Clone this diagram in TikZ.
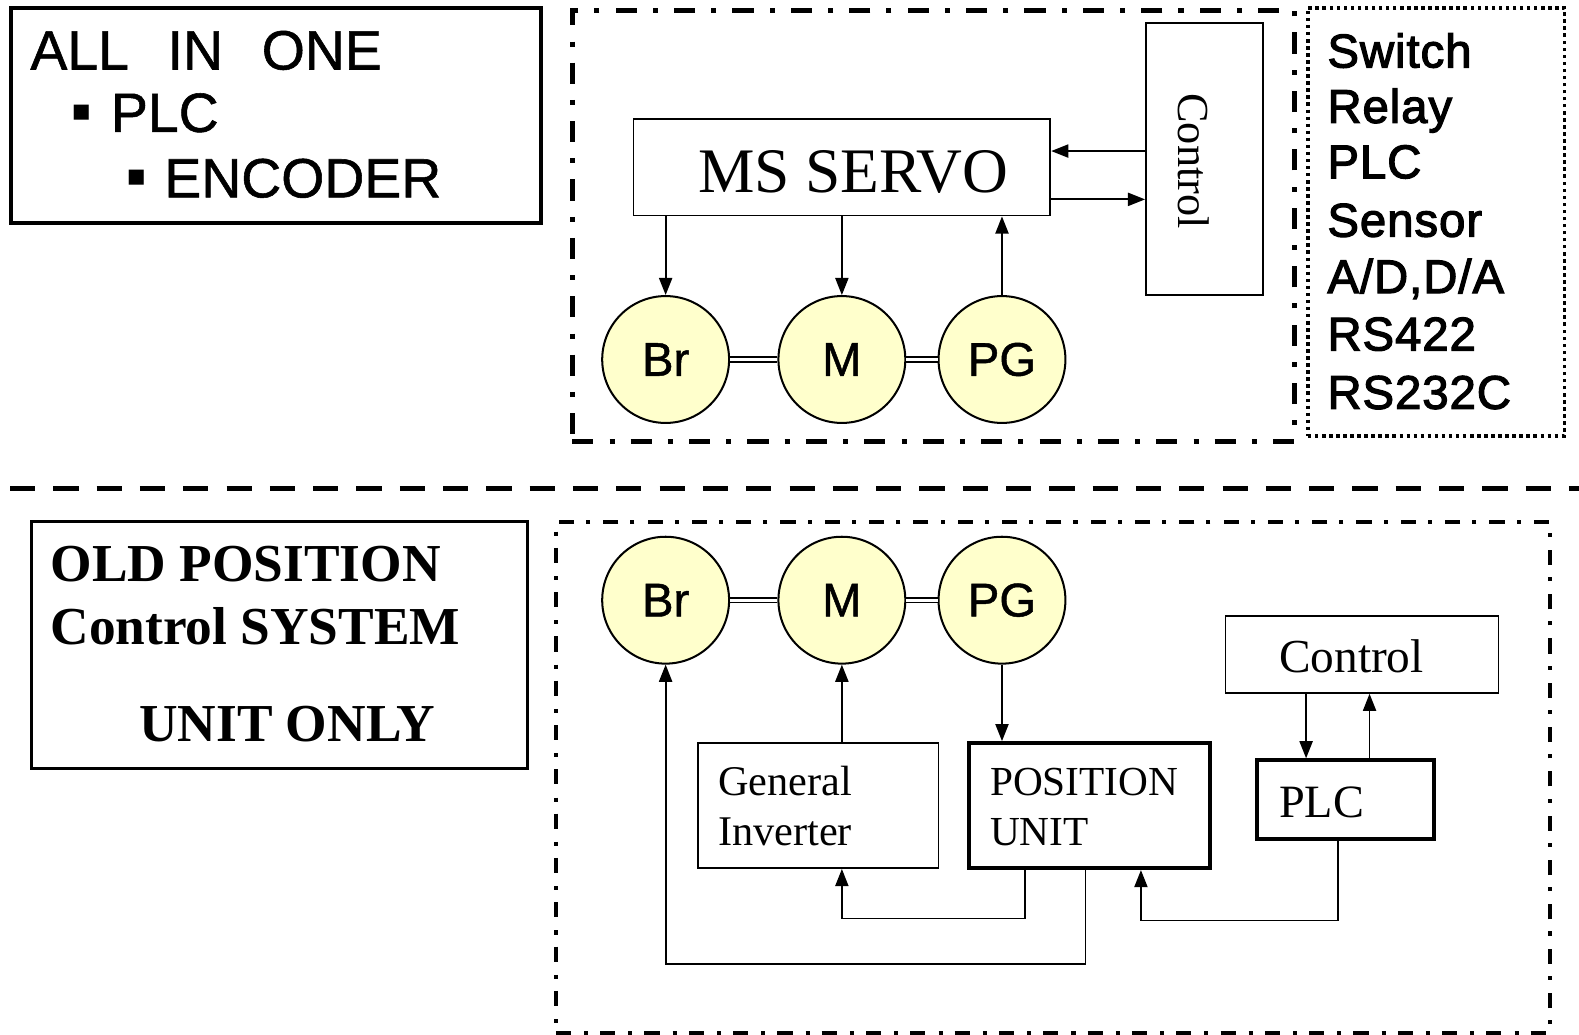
\documentclass[tikz,border=0pt]{standalone}
\usepackage{fontspec}
\setmainfont{Liberation Serif}
\newfontfamily\gothic[FakeBold=1]{Liberation Sans}
\newfontfamily\gothicheavy[FakeBold=2.5,LetterSpace=2]{Liberation Sans}
\newfontfamily\symfont{DejaVu Sans}
\usetikzlibrary{arrows.meta}
\newcommand\fsz[1]{\fontsize{#1pt}{#1pt}\selectfont}
\definecolor{wheelfill}{RGB}{255,255,204}

\begin{document}
\begin{tikzpicture}[x=1pt,y=-1pt,
  lbl/.style={inner sep=0,anchor=base west},
  bullet/.style={inner sep=0,font=\symfont\fsz{30}},
  box/.style={draw,line width=1.8pt,inner sep=0},
  heavybox/.style={draw,line width=4pt,inner sep=0},
  framebox/.style={draw,line width=3pt,inner sep=0},
  frameA/.style={draw,line width=4.5pt,dash pattern=on 21pt off 16pt on 5pt off 16pt,inner sep=0},
  frameB/.style={draw,line width=4pt,dash pattern=on 15pt off 13pt on 4pt off 12pt,inner sep=0},
  dotframe/.style={draw,line width=3.5pt,dash pattern=on 3.5pt off 3.5pt,inner sep=0},
  sepline/.style={line width=5pt,dash pattern=on 25pt off 18pt},
  wheel/.style={circle,draw,line width=2pt,fill=wheelfill,minimum size=126pt,inner sep=0,font=\gothic\fsz{47}},
  arr/.style={line width=1.8pt,-{Triangle[length=17pt,width=13pt]}},
  shaft/.style={double,double distance=3pt,line width=1.5pt},
]
\fill[white] (0,0) rectangle (1568,1027);
\useasboundingbox (0,0) rectangle (1568,1027);

% ---------- upper half: ALL IN ONE ----------
\node[heavybox,minimum width=526,minimum height=213,anchor=north west] (allbox) at (9,6) {};
\node[lbl,font=\gothic\fsz{55}] (allt) at (30,69) {ALL\hspace{0.7em}IN\hspace{0.7em}ONE};
\node[bullet] (b1) at (81,112) {▪};
\node[lbl,font=\gothic\fsz{55}] (plct) at (110,131) {PLC};
\node[bullet] (b2) at (136,177) {▪};
\node[lbl,font=\gothic\fsz{55}] (enct) at (163,196) {ENCODER};

\node[frameA,minimum width=717,minimum height=428,anchor=north west] (servoframe) at (566,8) {};

\node[box,minimum width=414,minimum height=96] (servo) at (836,166) {};
\node[lbl,font=\fsz{63}] (servot) at (693,191) {MS SERVO};
\node[box,minimum width=116,minimum height=270] (ctlA) at (1196,158) {};
\node[inner sep=0,font=\fsz{44},rotate=-90] (ctlAt) at (1185,160) {Control};

\node[wheel] (brA) at (661,357) {Br};
\node[wheel] (mA) at (836,357) {M};
\node[wheel] (pgA) at (995,357) {PG};
\draw[shaft] (brA.east) -- (mA.west);
\draw[shaft] (mA.east) -- (pgA.west);

\coordinate (s1) at ([yshift=16pt]servo.east);
\coordinate (s2) at ([yshift=-32pt]servo.east);
\draw[arr] (s1 -| ctlA.west) -- (s1);
\draw[arr] (s2) -- (s2 -| ctlA.west);
\draw[arr] (servo.south -| brA.north) -- (brA.north);
\draw[arr] (servo.south -| mA.north) -- (mA.north);
\draw[arr] (pgA.north) -- (servo.south -| pgA.north);

% interface list
\node[dotframe,minimum width=255,minimum height=425,anchor=north west] (ioframe) at (1297,6) {};
\begin{scope}[every node/.style={lbl,font=\gothicheavy\fsz{47}}]
\node (io1) at (1318,67) {Switch};
\node (io2) at (1318,122) {Relay};
\node (io3) at (1318,177) {PLC};
\node (io4) at (1318,235) {Sensor};
\node (io5) at (1318,291) {A/D,D/A};
\node (io6) at (1318,348) {RS422};
\node (io7) at (1318,406) {RS232C};
\end{scope}

% separator
\coordinate (sepL) at (10,485);
\coordinate (sepR) at (1568,485);
\draw[sepline] (sepL) -- (sepR);

% ---------- lower half: old position control ----------
\node[framebox,minimum width=492,minimum height=246,anchor=north west] (oldbox) at (30,516) {};
\begin{scope}[every node/.style={lbl,font=\bfseries\fsz{53}}]
\node (old1) at (50,577) {OLD POSITION};
\node (old2) at (50,640) {Control SYSTEM};
\node (old3) at (138,736) {UNIT ONLY};
\end{scope}

\node[frameB,minimum width=987,minimum height=508,anchor=north west] (oldframe) at (550,516) {};

\node[wheel] (brB) at (661,596) {Br};
\node[wheel] (mB) at (836,596) {M};
\node[wheel] (pgB) at (995,596) {PG};
\draw[shaft] (brB.east) -- (mB.west);
\draw[shaft] (mB.east) -- (pgB.west);

\node[box,minimum width=239,minimum height=124] (inv) at (812.5,800) {};
\node[lbl,font=\fsz{42}] (invt1) at (713,790) {General};
\node[lbl,font=\fsz{42}] (invt2) at (713,840) {Inverter};

\node[heavybox,minimum width=240,minimum height=124] (pos) at (1082,800) {};
\node[lbl,font=\fsz{41}] (post1) at (983,790) {POSITION};
\node[lbl,font=\fsz{41}] (post2) at (983,840) {UNIT};

\node[box,minimum width=271,minimum height=76] (ctlB) at (1352.5,650) {};
\node[lbl,font=\fsz{47}] (ctlBt) at (1270,668) {Control};

\node[heavybox,minimum width=176,minimum height=78] (plc) at (1336,794) {};
\node[lbl,font=\fsz{46}] (plcBt) at (1270,812) {PLC};

\draw[arr] (inv.north -| mB.south) -- (mB.south);
\draw[arr] (pgB.south) -- (pos.north -| pgB.south);

\coordinate (c1) at ([xshift=-39pt]plc.north);
\coordinate (c2) at ([xshift=24pt]plc.north);
\draw[arr] (ctlB.south -| c1) -- (c1);
\draw[arr] (c2) -- (ctlB.south -| c2);

\coordinate (p1) at ([xshift=-64pt]pos.south);
\coordinate (p2) at ([xshift=-4pt]pos.south);
\coordinate (p3) at ([xshift=-7pt]plc.south);
\coordinate (p4) at ([xshift=51pt]pos.south);
\draw[arr] (p1) -- ++(0,48) -| (inv.south -| mB.south);
\draw[arr] (p2) -- ++(0,93) -| (brB.south);
\draw[arr] (p3) -- ++(0,79) -| (p4);
\end{tikzpicture}
\end{document}
